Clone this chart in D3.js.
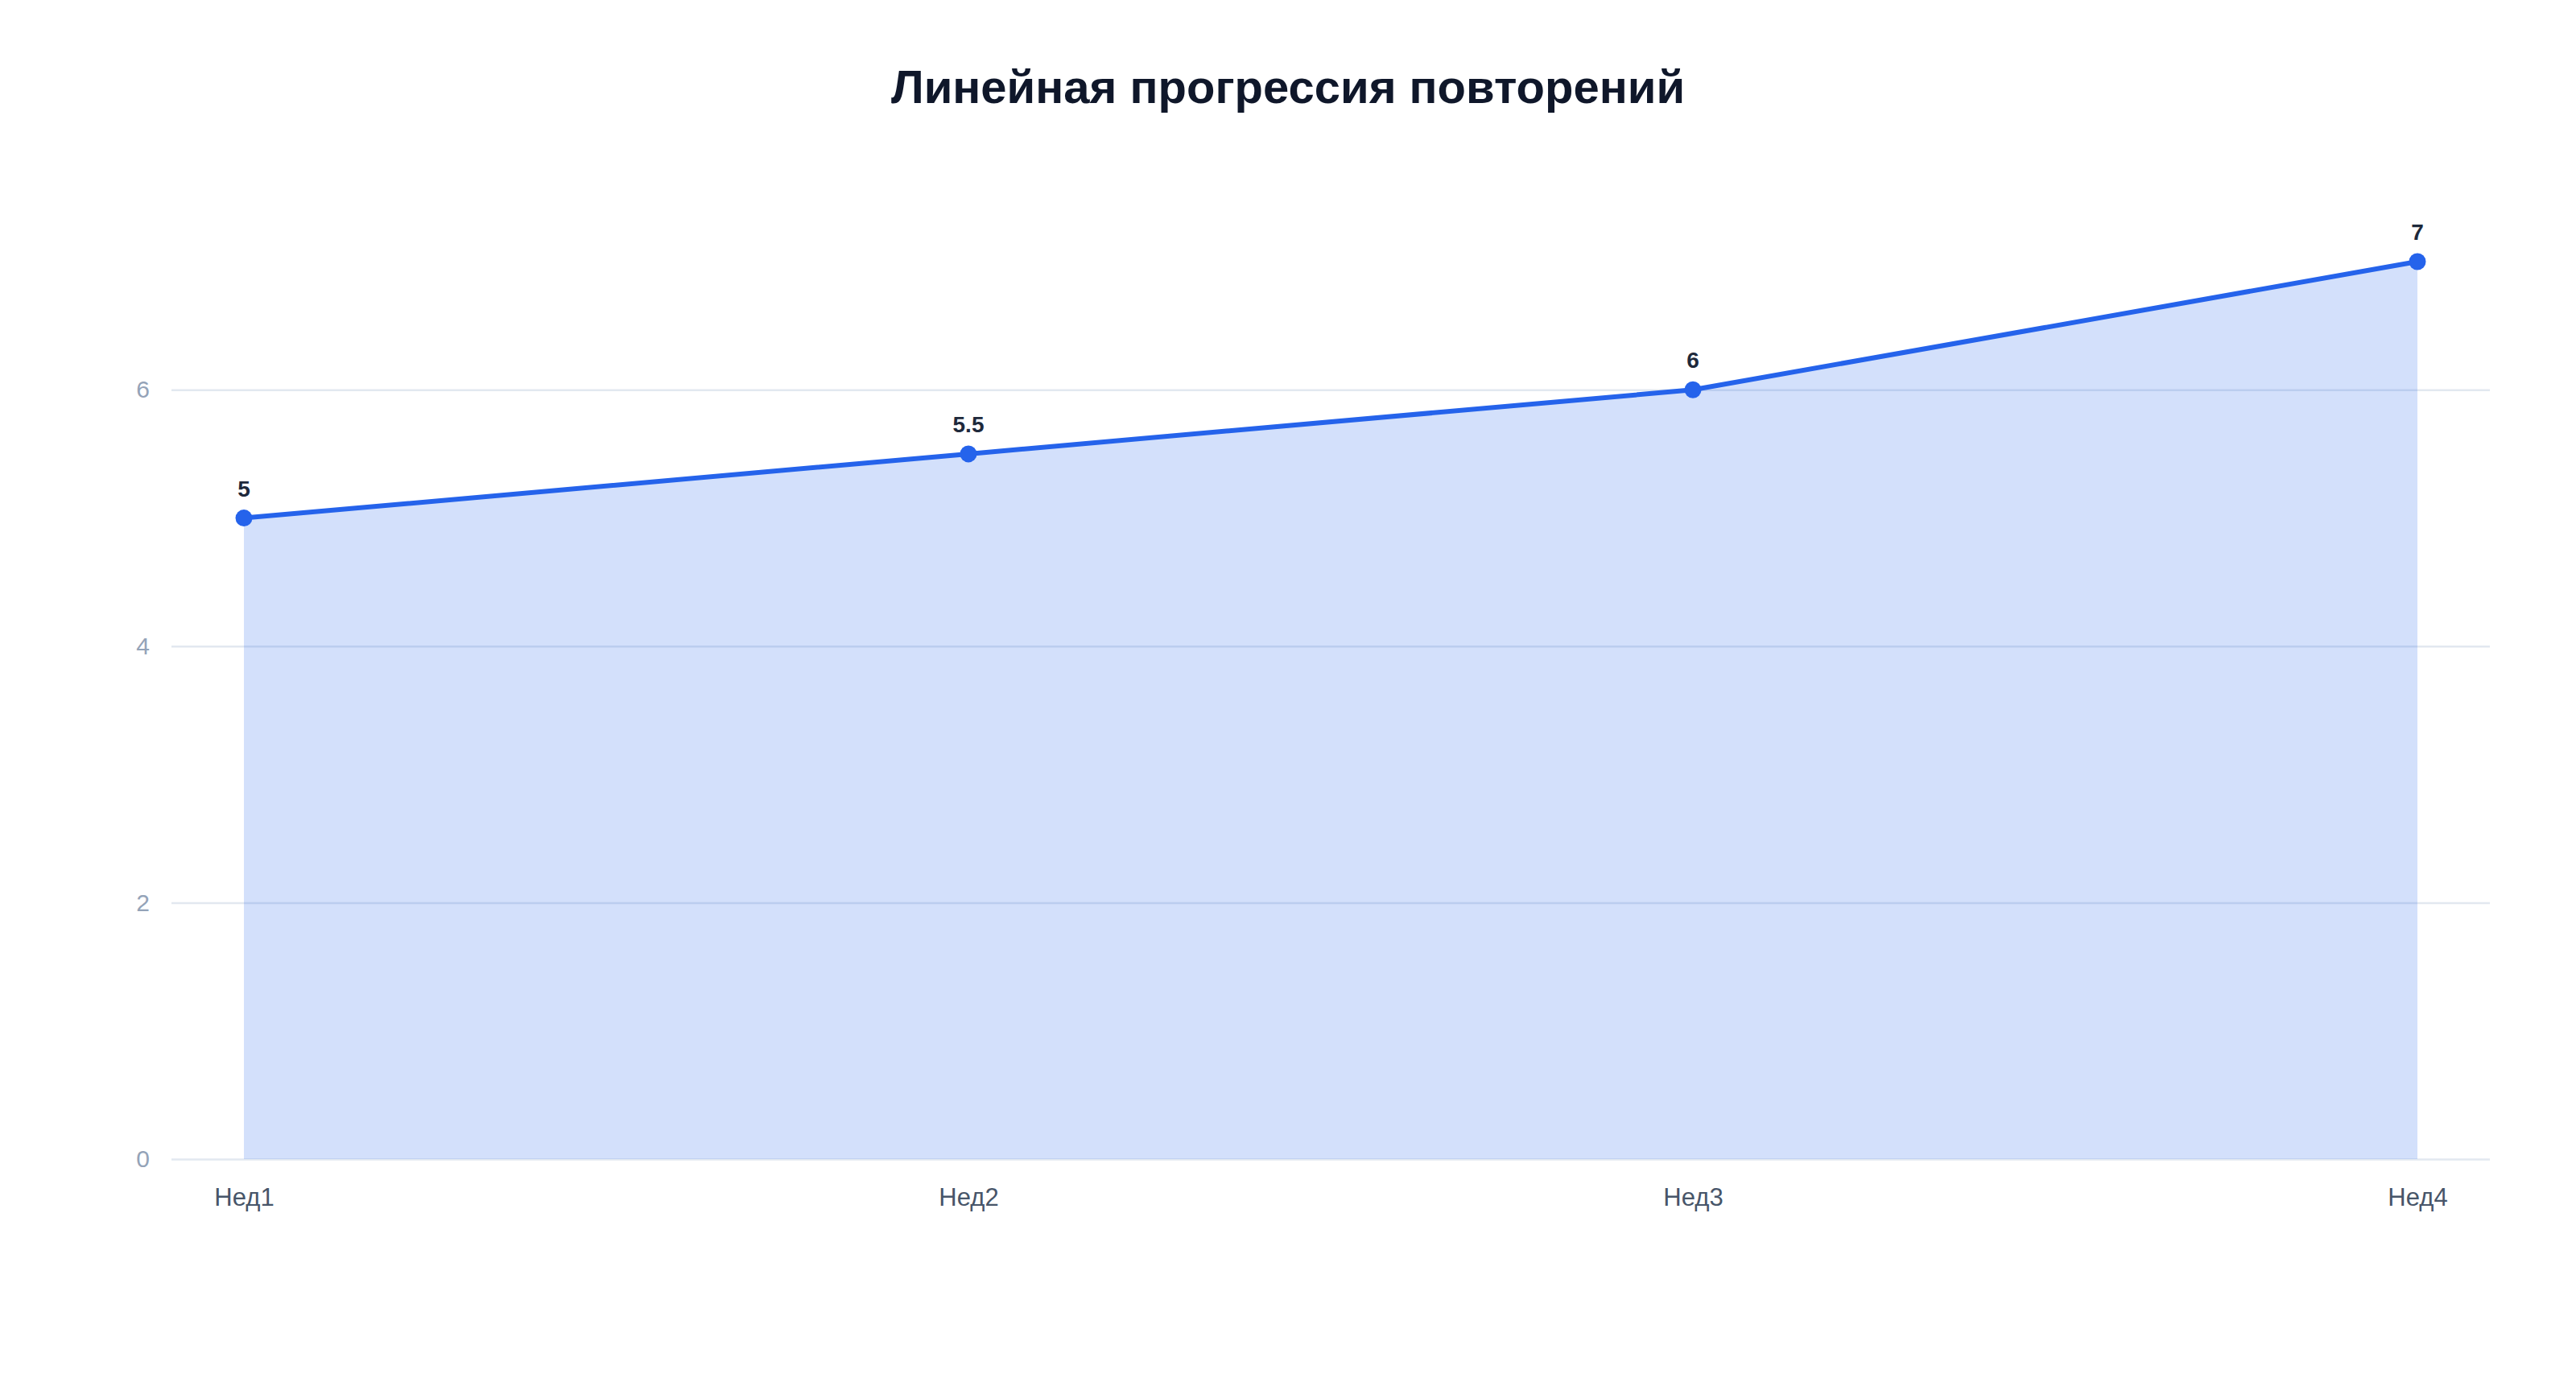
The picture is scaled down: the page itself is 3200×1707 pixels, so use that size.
<!DOCTYPE html>
<html>
<head>
<meta charset="utf-8">
<script src="https://cdn.jsdelivr.net/npm/d3@7"></script>
<style>
	body { margin: 0; background: #ffffff; }
	svg { display: block; font-family: "Liberation Sans", Arial, sans-serif; }
</style>
</head>
<body>
<div id="chart"></div>
<script>
// data
const weeks = ["Нед1", "Нед2", "Нед3", "Нед4"];
const reps = [5, 5.5, 6, 7];
const yTicks = [0, 2, 4, 6];
const chartTitle = "Линейная прогрессия повторений";

const width = 3200, height = 1707;
const margin = {top: 325, right: 107, bottom: 267, left: 213};
const innerW = width - margin.left - margin.right;
const innerH = height - margin.top - margin.bottom;

const data = weeks.map((w, i) => ({week: w, value: reps[i]}));

let svg = d3.select("#chart").append("svg")
	.attr("width", width)
	.attr("height", height);

svg.append("text")
	.attr("x", width / 2)
	.attr("y", 128)
	.attr("text-anchor", "middle")
	.attr("font-size", 58)
	.attr("font-weight", "bold")
	.attr("fill", "#0f172a")
	.text(chartTitle);

let g = svg.append("g").attr("transform", `translate(${margin.left},${margin.top})`);

// scales
const xScale = d3.scalePoint()
	.domain(weeks)
	.range([0, innerW])
	.padding(0.1);

const yScale = d3.scaleLinear()
	.domain([0, 7])
	.range([innerH, 0]);

// grid + y labels
let yAxis = g.append("g")
	.call(d3.axisLeft(yScale).tickValues(yTicks).tickFormat(d3.format("d")).tickSize(-innerW).tickPadding(27));
yAxis.select(".domain").remove();
yAxis.selectAll(".tick line").attr("stroke", "#e2e8f0").attr("stroke-width", 2.5);
yAxis.selectAll(".tick text")
	.attr("font-size", 30)
	.attr("fill", "#94a3b8")
	.attr("font-family", "Liberation Sans, Arial, sans-serif");

// x labels
let xAxis = g.append("g")
	.attr("transform", `translate(0,${innerH})`)
	.call(d3.axisBottom(xScale).tickSize(0).tickPadding(36));
xAxis.select(".domain").remove();
xAxis.selectAll(".tick text")
	.attr("font-size", 31)
	.attr("fill", "#475569")
	.attr("font-family", "Liberation Sans, Arial, sans-serif");

// area
const area = d3.area()
	.x(d => xScale(d.week))
	.y0(yScale(0))
	.y1(d => yScale(d.value));

g.append("path")
	.datum(data)
	.attr("d", area)
	.attr("fill", "#2563eb")
	.attr("fill-opacity", 0.2);

// line
const line = d3.line()
	.x(d => xScale(d.week))
	.y(d => yScale(d.value));

g.append("path")
	.datum(data)
	.attr("d", line)
	.attr("fill", "none")
	.attr("stroke", "#2563eb")
	.attr("stroke-width", 6)
	.attr("stroke-linejoin", "round");

// points
g.selectAll(".dot")
	.data(data)
	.join("circle")
	.attr("class", "dot")
	.attr("cx", d => xScale(d.week))
	.attr("cy", d => yScale(d.value))
	.attr("r", 10.5)
	.attr("fill", "#2563eb");

// value labels
g.selectAll(".val")
	.data(data)
	.join("text")
	.attr("class", "val")
	.attr("x", d => xScale(d.week))
	.attr("y", d => yScale(d.value) - 27)
	.attr("text-anchor", "middle")
	.attr("font-size", 28)
	.attr("font-weight", "bold")
	.attr("fill", "#1e293b")
	.text(d => d.value);
</script>
</body>
</html>
